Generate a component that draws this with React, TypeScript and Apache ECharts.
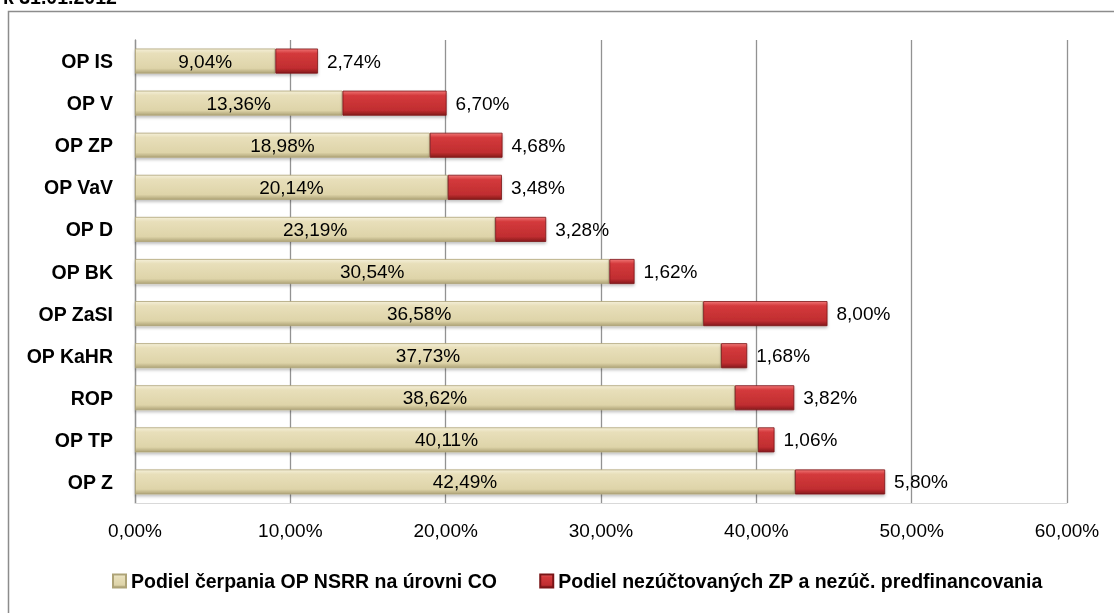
import React, { useEffect, useRef } from "react";
import * as echarts from "echarts";

const categories = ["OP IS", "OP V", "OP ZP", "OP VaV", "OP D", "OP BK", "OP ZaSI", "OP KaHR", "ROP", "OP TP", "OP Z"];
const drawnShare = [9.04, 13.36, 18.98, 20.14, 23.19, 30.54, 36.58, 37.73, 38.62, 40.11, 42.49];
const unsettledShare = [2.74, 6.7, 4.68, 3.48, 3.28, 1.62, 8.0, 1.68, 3.82, 1.06, 5.8];
const seriesNames = ["Podiel čerpania OP NSRR na úrovni CO", "Podiel nezúčtovaných ZP a nezúč. predfinancovania"];
const titleText = "k 31.01.2012";

const FONT = "'Liberation Sans Narrow', 'Arial Narrow', 'Liberation Sans', Arial, sans-serif";
const fmt = (v: number) => v.toFixed(2).replace(".", ",") + "%";

export default function App() {
  const ref = useRef<HTMLDivElement>(null);
  useEffect(() => {
    if (!ref.current) return;
    const chart = echarts.init(ref.current, null, { renderer: "svg" });
    const beige = new echarts.graphic.LinearGradient(0, 0, 0, 1, [
      { offset: 0, color: "#f4efd8" },
      { offset: 0.18, color: "#e8dfba" },
      { offset: 0.8, color: "#ded4a9" },
      { offset: 1, color: "#afa478" },
    ]);
    const red = new echarts.graphic.LinearGradient(0, 0, 0, 1, [
      { offset: 0, color: "#ef7474" },
      { offset: 0.18, color: "#d43a3c" },
      { offset: 0.8, color: "#c02d30" },
      { offset: 1, color: "#861a1c" },
    ]);
    chart.setOption({
      animation: false,
      textStyle: { fontFamily: FONT },
      grid: { left: 135, right: 47, top: 40, bottom: 110, containLabel: false },
      xAxis: {
        type: "value",
        min: 0,
        max: 60,
        interval: 10,
        axisLine: { show: true, lineStyle: { color: "#d9d9d9", width: 1 } },
        axisTick: { show: false },
        splitLine: { show: true, lineStyle: { color: "#929292", width: 1.3 } },
        axisLabel: { formatter: (v: number) => fmt(v), color: "#000", fontSize: 19, fontFamily: FONT, margin: 18 },
      },
      yAxis: {
        type: "category",
        data: categories,
        inverse: true,
        axisLine: { show: true, lineStyle: { color: "#929292", width: 1.3 } },
        axisTick: { show: false },
        axisLabel: { color: "#000", fontSize: 19.5, fontWeight: "bold", fontFamily: FONT, margin: 22 },
      },
      legend: {
        top: 566,
        left: 107,
        icon: "rect",
        itemWidth: 13,
        itemHeight: 13,
        itemGap: 42,
        textStyle: { fontSize: 19.5, fontWeight: "bold", color: "#000", fontFamily: FONT },
        data: seriesNames,
      },
      series: [
        {
          name: seriesNames[0],
          type: "bar",
          stack: "total",
          barWidth: 25,
          data: drawnShare,
          itemStyle: { color: beige, borderColor: "#aea377", borderWidth: 0.8, shadowColor: "rgba(0,0,0,0.25)", shadowBlur: 3, shadowOffsetY: 2 },
          label: { show: true, position: "inside", color: "#000", fontSize: 19, fontFamily: FONT, formatter: (p: any) => fmt(p.value) },
        },
        {
          name: seriesNames[1],
          type: "bar",
          stack: "total",
          barWidth: 25,
          data: unsettledShare,
          itemStyle: { color: red, borderColor: "#7a1416", borderWidth: 0.8, shadowColor: "rgba(0,0,0,0.25)", shadowBlur: 3, shadowOffsetY: 2 },
          label: { show: true, position: "right", distance: 9, color: "#000", fontSize: 19, fontFamily: FONT, formatter: (p: any) => fmt(p.value) },
        },
      ],
      graphic: [
        {
          type: "rect",
          z: -1,
          shape: { x: 8.5, y: 11.5, width: 1200, height: 700 },
          style: { fill: "none", stroke: "#8c8c8c", lineWidth: 1.5 },
          silent: true,
        },
        {
          type: "text",
          x: 3,
          y: 7,
          style: { text: titleText, fontSize: 19.5, fontWeight: "bold", fontFamily: FONT, fill: "#000", verticalAlign: "bottom" },
          silent: true,
        },
      ],
    });
    return () => chart.dispose();
  }, []);
  return <div ref={ref} style={{ position: "fixed", left: 0, top: 0, width: 1114, height: 613 }} />;
}
